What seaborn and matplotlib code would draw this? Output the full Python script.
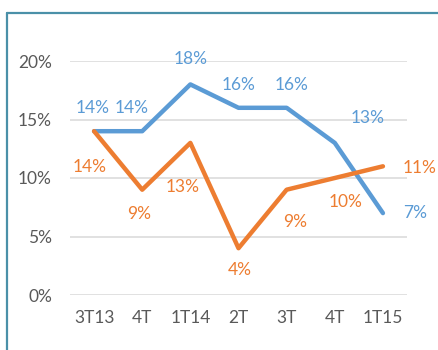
import matplotlib
matplotlib.use("Agg")
import matplotlib.pyplot as plt
from matplotlib.lines import Line2D
import pandas as pd
import seaborn as sns

# Quarterly values (%)
quarters = ["3T13", "4T", "1T14", "2T", "3T", "4T", "1T15"]
serie_azul = [14, 14, 18, 16, 16, 13, 7]
serie_naranja = [14, 9, 13, 4, 9, 10, 11]
y_ticks = [0, 5, 10, 15, 20]

AZUL = "#5B9BD5"
NARANJA = "#ED7D31"
GRIS_TEXTO = "#595959"

# label placement around each point, in pixels (dx right, dy down)
off_azul = [(-1, -23), (-11, -23), (0, -25), (0, -23), (5, -23), (33, -25), (32, 0)]
off_naranja = [(-4, 36), (-3, 24), (-8, 44), (1, 22), (8, 32), (11, 24), (37, 2)]

sns.set_theme(style="white")
plt.rcParams["font.family"] = ["Lato", "DejaVu Sans"]

n = len(quarters)
df = pd.DataFrame({
    "pos": list(range(n)) * 2,
    "valor": [v / 100 for v in serie_azul] + [v / 100 for v in serie_naranja],
    "serie": ["azul"] * n + ["naranja"] * n,
})

fig = plt.figure(figsize=(4.39, 3.5), dpi=100)
ax = fig.add_axes([70 / 439, 55 / 350, 337 / 439, 234 / 350])

sns.lineplot(data=df, x="pos", y="valor", hue="serie", sort=False,
             palette={"azul": AZUL, "naranja": NARANJA}, linewidth=3.2,
             legend=False, ax=ax)
for ln in ax.get_lines():
    ln.set_solid_capstyle("round")
    ln.set_solid_joinstyle("round")

ax.set_xlim(-0.5, n - 0.5)
ax.set_ylim(0, 0.20)
ax.set_yticks([t / 100 for t in y_ticks])
ax.set_yticklabels([f"{t}%" for t in y_ticks])
ax.set_xticks(range(n))
ax.set_xticklabels(quarters)
ax.tick_params(axis="y", length=0, pad=13, labelsize=12.5, labelcolor=GRIS_TEXTO)
ax.tick_params(axis="x", length=0, pad=11, labelsize=12.5, labelcolor=GRIS_TEXTO)
ax.set_xlabel("")
ax.set_ylabel("")
ax.grid(axis="y", color="#D9D9D9", linewidth=1.1)
ax.set_axisbelow(True)
for s in ax.spines.values():
    s.set_visible(False)

for vals, offs, col in [(serie_azul, off_azul, AZUL), (serie_naranja, off_naranja, NARANJA)]:
    for i, (v, (dx, dy)) in enumerate(zip(vals, offs)):
        ax.annotate(f"{v}%", xy=(i, v / 100), xytext=(dx, -dy),
                    textcoords="offset pixels", ha="center", va="center",
                    fontsize=12.5, color=col, annotation_clip=False)

# chart frame (left and top edges)
borde = "#4A90A8"
fig.add_artist(Line2D([7.5 / 439, 7.5 / 439], [0, 1 - 13 / 350], transform=fig.transFigure,
                      color=borde, linewidth=1.6))
fig.add_artist(Line2D([7.5 / 439, 1], [1 - 13 / 350, 1 - 13 / 350], transform=fig.transFigure,
                      color=borde, linewidth=1.6))

fig.savefig("out.png", dpi=100, facecolor="white")
